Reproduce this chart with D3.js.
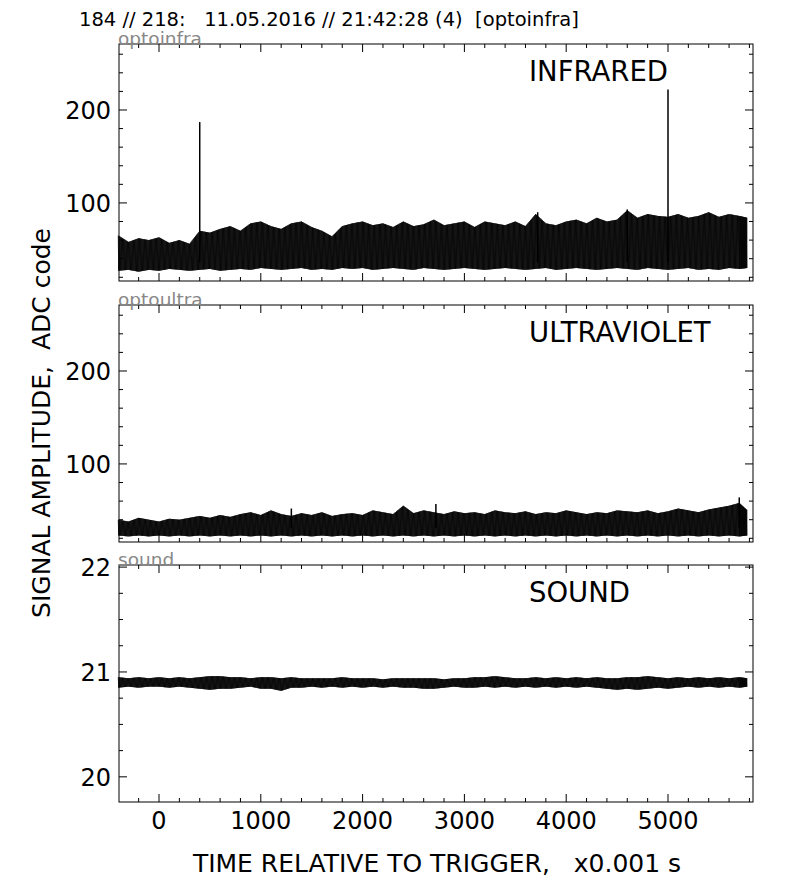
<!DOCTYPE html>
<html><head><meta charset="utf-8">
<script src="https://cdn.jsdelivr.net/npm/d3@7"></script>
<style>body{margin:0;background:#fff}text{font-family:"DejaVu Sans",sans-serif}</style>
</head><body><svg id="c" width="792" height="882"></svg>
<script>
// envelope of each trace, every 100 time units (-400 .. 5800)
const times = d3.range(-400, 5801, 100);
const irHi = [65,58,62,60,63,57,60,56,70,68,72,75,70,78,80,75,72,78,80,74,70,64,75,78,80,76,78,74,80,75,77,82,76,78,80,74,80,78,76,80,75,88,78,76,80,82,78,84,80,82,92,84,88,86,85,88,84,86,90,85,88,86,84];
const irLo = [27,28,26,28,27,29,28,27,28,29,27,28,29,28,30,29,28,29,30,28,29,28,30,29,30,28,29,30,29,28,30,29,28,29,30,29,28,29,30,29,28,29,30,28,29,30,29,28,29,30,29,28,30,29,28,29,30,28,29,28,30,29,30];
const irSpikes = [[400, 187], [5000, 222], [3720, 90], [4600, 93]];
const uvHi = [40,38,42,40,38,41,40,42,44,42,45,43,46,48,45,50,46,44,47,45,48,44,46,47,45,50,48,46,55,47,50,48,46,49,47,48,46,50,48,47,49,46,48,47,50,48,46,48,47,50,49,48,50,47,49,52,50,48,51,53,55,58,50];
const uvLo = [23,22,23,22,23,22,23,22,23,22,23,22,23,22,23,22,23,22,23,22,23,22,23,22,23,22,23,22,23,22,23,22,23,22,23,22,23,22,23,22,23,22,23,22,23,22,23,22,23,22,23,22,23,22,23,22,23,22,23,22,23,22,23];
const uvSpikes = [[2720, 57], [5700, 64], [1300, 52]];
const sdHi = [20.95,20.94,20.95,20.94,20.95,20.94,20.95,20.94,20.95,20.96,20.96,20.95,20.95,20.94,20.95,20.95,20.94,20.95,20.94,20.94,20.94,20.94,20.95,20.94,20.94,20.94,20.93,20.94,20.94,20.94,20.94,20.94,20.93,20.94,20.94,20.95,20.95,20.96,20.95,20.94,20.94,20.95,20.94,20.95,20.94,20.95,20.94,20.95,20.94,20.94,20.95,20.95,20.96,20.95,20.94,20.95,20.94,20.95,20.94,20.95,20.94,20.95,20.94];
const sdLo = [20.85,20.86,20.85,20.86,20.86,20.85,20.86,20.85,20.84,20.83,20.84,20.84,20.85,20.86,20.84,20.84,20.82,20.85,20.85,20.86,20.85,20.86,20.85,20.86,20.85,20.86,20.85,20.86,20.85,20.85,20.84,20.84,20.85,20.86,20.85,20.85,20.86,20.85,20.86,20.85,20.86,20.85,20.86,20.85,20.86,20.85,20.86,20.85,20.84,20.83,20.84,20.83,20.84,20.85,20.84,20.85,20.86,20.85,20.86,20.85,20.86,20.85,20.86];
const xTicks = [0, 1000, 2000, 3000, 4000, 5000];

const panels = [
  {top:44, name:"INFRARED", tag:"optoinfra", dom:[16,271], ticks:[100,200], minor:20, hi:irHi, lo:irLo, spikes:irSpikes},
  {top:305, name:"ULTRAVIOLET", tag:"optoultra", dom:[16,271], ticks:[100,200], minor:20, hi:uvHi, lo:uvLo, spikes:uvSpikes},
  {top:565, name:"SOUND", tag:"sound", dom:[19.76,22.02], ticks:[20,21,22], minor:0.25, hi:sdHi, lo:sdLo, spikes:[]}
];
const svg = d3.select("#c");
const L = 119, R = 753, H = 237;
const x = d3.scaleLinear().domain([-393, 5835]).range([L, R]);
const lastT = 5780;

svg.append("text").attr("x", 79).attr("y", 26).attr("font-size", 19.5)
  .attr("xml:space", "preserve").text("184 // 218:   11.05.2016 // 21:42:28 (4)  [optoinfra]");

panels.forEach(p => {
  const y = d3.scaleLinear().domain(p.dom).range([p.top + H, p.top]);
  const g = svg.append("g");
  const pts = times.map((t, i) => ({t: Math.min(t, lastT), hi: p.hi[i], lo: p.lo[i]}));
  // noise drawn as a tight zigzag between low and high envelope
  const zz = [];
  pts.forEach((d, i) => {
    if (i == pts.length - 1) return;
    const n = pts[i + 1];
    for (let k = 0; k < 24; k++) {
      const f = k / 24, t = d.t + (n.t - d.t) * f;
      const hi = d.hi + (n.hi - d.hi) * f, lo = d.lo + (n.lo - d.lo) * f;
      zz.push([t, k % 2 ? lo : hi]);
    }
  });
  g.append("path").datum(zz)
    .attr("d", d3.line().x(d => x(d[0])).y(d => y(d[1])))
    .attr("fill", "none").attr("stroke", "#000").attr("stroke-width", 0.8);
  p.spikes.forEach(s => g.append("line").attr("x1", x(s[0])).attr("x2", x(s[0]))
    .attr("y1", y(p.lo[8] + 8 * (p.dom[1] > 100 ? 1 : 0.01))).attr("y2", y(s[1])).attr("stroke", "#000").attr("stroke-width", 1.5));

  // frame + ticks (inside, all four sides)
  g.append("rect").attr("x", L).attr("y", p.top).attr("width", R - L).attr("height", H)
    .attr("fill", "none").attr("stroke", "#000").attr("stroke-width", 1);
  const minorX = d3.range(-200, 5801, 200);
  minorX.forEach(t => {
    const len = t % 1000 == 0 ? 8 : 4;
    [[p.top + H, -len], [p.top, len]].forEach(([yy, d]) =>
      g.append("line").attr("x1", x(t)).attr("x2", x(t)).attr("y1", yy).attr("y2", yy + d).attr("stroke", "#000"));
  });
  d3.range(Math.ceil(p.dom[0] / p.minor) * p.minor, p.dom[1], p.minor).forEach(v => {
    const major = p.ticks.some(t => Math.abs(t - v) < 1e-6), len = major ? 8 : 4;
    [[L, len], [R, -len]].forEach(([xx, d]) =>
      g.append("line").attr("x1", xx).attr("x2", xx + d).attr("y1", y(v)).attr("y2", y(v)).attr("stroke", "#000"));
  });
  p.ticks.forEach(v => g.append("text").attr("x", L - 8).attr("y", y(v) + 9).attr("text-anchor", "end")
    .attr("font-size", 24).text(v));
  g.append("text").attr("x", 118).attr("y", p.top + 1).attr("font-size", 18.5).attr("fill", "#888").text(p.tag);
  g.append("text").attr("x", 529).attr("y", p.top + 37).attr("font-size", 27.5).text(p.name);
});

xTicks.forEach(t => svg.append("text").attr("x", x(t)).attr("y", 829).attr("text-anchor", "middle")
  .attr("font-size", 24).text(t));
svg.append("text").attr("x", 437).attr("y", 872).attr("text-anchor", "middle").attr("font-size", 25)
  .attr("xml:space", "preserve").text("TIME RELATIVE TO TRIGGER,   x0.001 s");
svg.append("text").attr("transform", "translate(50,423) rotate(-90)").attr("text-anchor", "middle")
  .attr("font-size", 25).attr("xml:space", "preserve").text("SIGNAL AMPLITUDE,  ADC code");
</script></body></html>
